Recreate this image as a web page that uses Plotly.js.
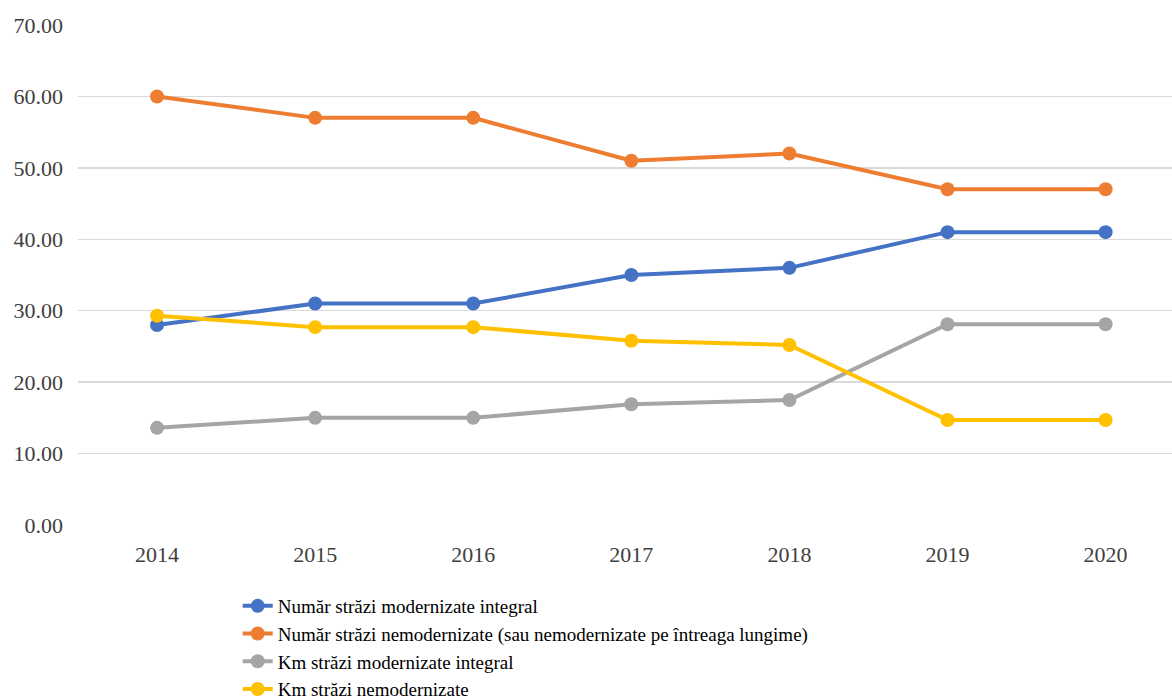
<!DOCTYPE html>
<html>
<head>
<meta charset="utf-8">
<script src="https://cdn.plot.ly/plotly-3.0.1.min.js"></script>
<style>html,body{margin:0;padding:0;background:#fff;}#chart{width:1172px;height:700px;}</style>
</head>
<body>
<div id="chart"></div>
<script>
var years = ['2014', '2015', '2016', '2017', '2018', '2019', '2020'];
var seriesNames = [
  'Număr străzi modernizate integral',
  'Număr străzi nemodernizate (sau nemodernizate pe întreaga lungime)',
  'Km străzi modernizate integral',
  'Km străzi nemodernizate'
];
var numarModernizate = [28, 31, 31, 35, 36, 41, 41];
var numarNemodernizate = [60, 57, 57, 51, 52, 47, 47];
var kmModernizate = [13.6, 15.0, 15.0, 16.9, 17.5, 28.1, 28.1];
var kmNemodernizate = [29.3, 27.7, 27.7, 25.8, 25.2, 14.7, 14.7];
var colors = ['#4472C4', '#ED7D31', '#A5A5A5', '#FFC000'];
var allValues = [numarModernizate, numarNemodernizate, kmModernizate, kmNemodernizate];

var traces = allValues.map(function (vals, i) {
  return {
    x: years,
    y: vals,
    name: seriesNames[i],
    type: 'scatter',
    mode: 'lines+markers',
    line: {color: colors[i], width: 4},
    marker: {color: colors[i], size: 14, symbol: 'circle'}
  };
});

var font = '"Liberation Serif", serif';
var layout = {
  width: 1172,
  height: 700,
  margin: {l: 78, r: 0, t: 25, b: 175, autoexpand: false},
  paper_bgcolor: '#ffffff',
  plot_bgcolor: '#ffffff',
  showlegend: true,
  font: {family: font, size: 20, color: '#404040'},
  xaxis: {
    type: 'category',
    range: [-0.5, 6.42],
    showgrid: false,
    zeroline: false,
    showline: false,
    ticks: '',
    ticklabelstandoff: 14,
    tickangle: 0,
    tickfont: {family: font, size: 22, color: '#404040'},
    fixedrange: true
  },
  yaxis: {
    range: [0, 70],
    dtick: 10,
    tickformat: '.2f',
    showgrid: true,
    gridcolor: '#D9D9D9',
    gridwidth: 1.5,
    zeroline: false,
    showline: false,
    ticks: '',
    ticklabelstandoff: 14,
    tickfont: {family: font, size: 22, color: '#404040'},
    fixedrange: true
  },
  legend: {
    x: 0.146,
    xanchor: 'left',
    y: -0.124,
    yanchor: 'top',
    orientation: 'v',
    font: {family: font, size: 19, color: '#000000'},
    itemwidth: 30,
    tracegroupgap: 0,
    bgcolor: 'rgba(0,0,0,0)'
  }
};

Plotly.newPlot('chart', traces, layout, {displayModeBar: false, staticPlot: true});
</script>
</body>
</html>
